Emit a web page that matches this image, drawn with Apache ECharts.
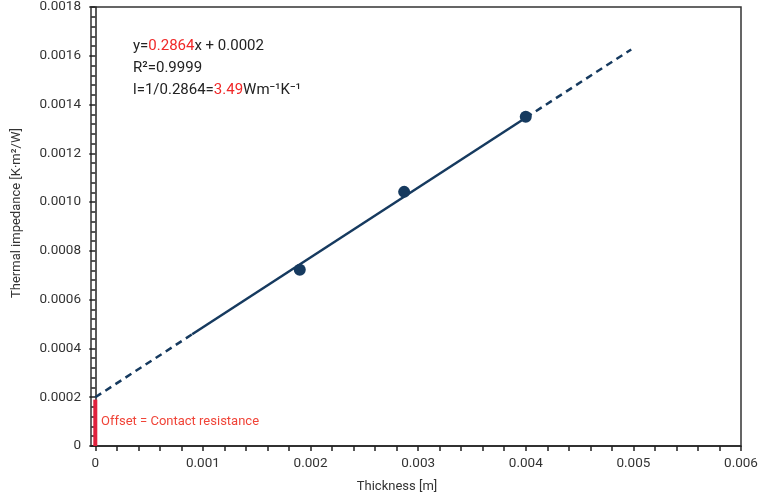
<!DOCTYPE html>
<html>
<head>
<meta charset="utf-8">
<script src="https://cdn.jsdelivr.net/npm/echarts@6/dist/echarts.min.js"></script>
<style>html,body{margin:0;padding:0;background:#fff}#c{width:768px;height:500px}</style>
</head>
<body>
<div id="c"></div>
<script>
// measured points
const thicknessM = [0.0019, 0.00287, 0.004];
const impedance = [0.000723, 0.001042, 0.00135];
// fit line read-off points (dashed / solid / dashed segments)
const fitX = [0, 0.0009, 0.004, 0.00498];
const fitY = [0.0002, 0.000458, 0.001346, 0.001626];
// offset (contact resistance) bar
const offsetX = [0, 0];
const offsetY = [0, 0.00019];
// tick labels
const xMajorTicks = [0, 0.001, 0.002, 0.003, 0.004, 0.005, 0.006];
const xAllTicks = [0,0.0002,0.0004,0.0006,0.0008,0.001,0.0012,0.0014,0.0016,0.0018,0.002,0.0022,0.0024,0.0026,0.0028,0.003,0.0032,0.0034,0.0036,0.0038,0.004,0.0042,0.0044,0.0046,0.0048,0.005,0.0052,0.0054,0.0056,0.0058,0.006];
const xLabelText = ['0', '0.001', '0.002', '0.003', '0.004', '0.005', '0.006'];

const FONT = 'Roboto, "Noto Sans", sans-serif';
const navy = '#163a5f';
const axisColor = '#222';

const chart = echarts.init(document.getElementById('c'));
const seg = (i, j) => fitX.slice(i, j + 1).map((x, k) => [x, fitY[i + k]]);

chart.setOption({
  animation: false,
  grid: { left: 91, right: 27, top: 6.5, bottom: 54, show: true, borderColor: '#333', borderWidth: 1.5, backgroundColor: 'transparent' },
  xAxis: {
    type: 'value', min: -0.00004, max: 0.006,
    axisLine: { lineStyle: { color: axisColor, width: 1.5 } },
    axisTick: { customValues: xAllTicks, length: 5, lineStyle: { color: axisColor, width: 1.5 } },
    axisLabel: {
      customValues: xMajorTicks, margin: 11, fontSize: 13.5, color: '#333', fontFamily: FONT,
      formatter: v => xLabelText[xMajorTicks.findIndex(t => Math.abs(t - v) < 1e-9)] ?? ''
    },
    splitLine: { show: false }
  },
  yAxis: {
    type: 'value', min: 0, max: 0.0018, interval: 0.0002,
    axisLine: { show: true, lineStyle: { color: axisColor, width: 1.5 } },
    axisTick: { show: true, inside: false, length: 6, lineStyle: { color: axisColor, width: 1.5 } },
    minorTick: { show: true, splitNumber: 5, length: 4, lineStyle: { color: axisColor, width: 1.5 } },
    axisLabel: { margin: 10, fontSize: 13.5, color: '#333', fontFamily: FONT, formatter: v => v === 0 ? '0' : v.toFixed(4) },
    splitLine: { show: false }
  },
  series: [
    { type: 'line', data: offsetX.map((x, i) => [x, offsetY[i]]), showSymbol: false, lineStyle: { color: '#e0203c', width: 4 }, z: 3 },
    { type: 'line', data: seg(0, 1), showSymbol: false, lineStyle: { color: navy, width: 2.5, type: [7, 5] } },
    { type: 'line', data: seg(1, 2), showSymbol: false, lineStyle: { color: navy, width: 2.5 } },
    { type: 'line', data: seg(2, 3), showSymbol: false, lineStyle: { color: navy, width: 2.5, type: [7, 5] } },
    { type: 'scatter', data: thicknessM.map((x, i) => [x, impedance[i]]), symbolSize: 12, itemStyle: { color: navy, opacity: 1 }, z: 5 }
  ],
  graphic: [
    { type: 'text', left: 133, top: 39, style: { text: '{k|y=}{r|0.2864}{k|x + 0.0002}', rich: { k: { fill: '#222', fontSize: 15, fontFamily: FONT }, r: { fill: '#f02828', fontSize: 15, fontFamily: FONT } } } },
    { type: 'text', left: 133, top: 61, style: { text: 'R²=0.9999', fill: '#222', fontSize: 15, fontFamily: FONT } },
    { type: 'text', left: 133, top: 83, style: { text: '{k|l=1/0.2864=}{r|3.49}{k|Wm⁻¹K⁻¹}', rich: { k: { fill: '#222', fontSize: 15, fontFamily: FONT }, r: { fill: '#f02828', fontSize: 15, fontFamily: FONT } } } },
    { type: 'text', left: 101, top: 415, style: { text: 'Offset = Contact resistance', fill: '#f04438', fontSize: 13, fontFamily: FONT } },
    { type: 'text', x: 397, y: 487, style: { text: 'Thickness [m]', fill: '#333', fontSize: 13, fontFamily: FONT, align: 'center', verticalAlign: 'middle' } },
    { type: 'text', x: 17, y: 213, rotation: Math.PI / 2, style: { text: 'Thermal impedance [K·m²/W]', fill: '#333', fontSize: 13, fontFamily: FONT, align: 'center', verticalAlign: 'middle' } }
  ]
});
</script>
</body>
</html>
